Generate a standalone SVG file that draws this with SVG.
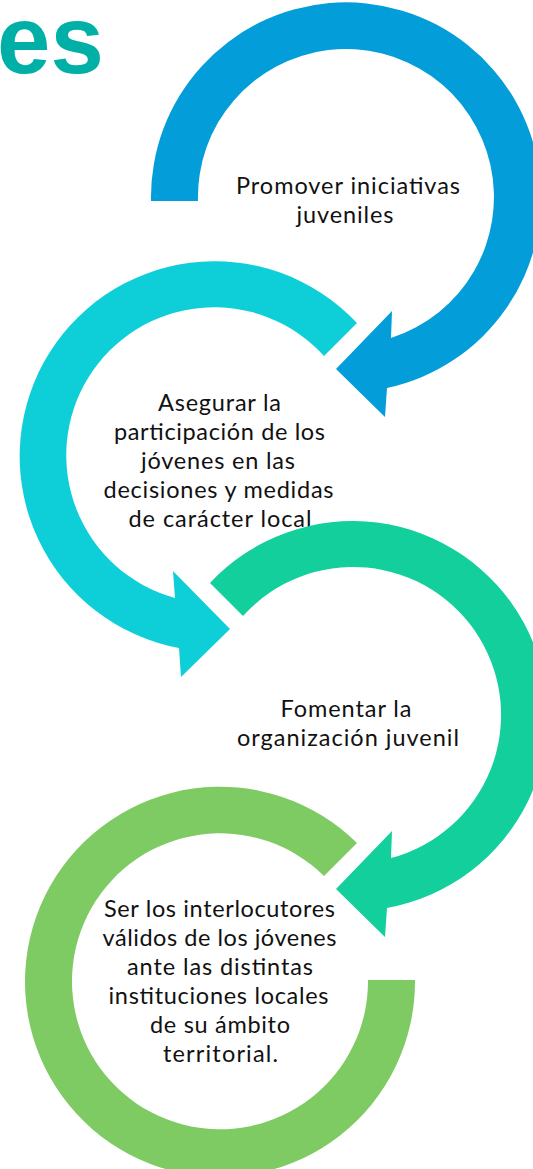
<svg xmlns="http://www.w3.org/2000/svg" width="533" height="1169" viewBox="0 0 533 1169">
<style>
.t{font-family:Lato,"Open Sans","Liberation Sans",sans-serif;font-size:23.5px;fill:#111;text-anchor:middle}
.title{font-family:"Liberation Sans",Arial,sans-serif;font-weight:bold;font-size:96px;fill:#00B0A6}
</style>
<rect width="533" height="1169" fill="#fff"/>
<text class="title" x="-3" y="73">es</text>
<g id="connectors"></g>
<g id="node1">
<path fill="#039DD9" d="M 151 201 A 195 195 0 1 1 387 388 L 385 417 L 336 369 L 392 311 L 391 338 A 148 148 0 1 0 198 201 Z"/>
<text class="t" x="348" y="194" textLength="224" lengthAdjust="spacing">Promover iniciativas</text>
<text class="t" x="345" y="223" textLength="97" lengthAdjust="spacing">juveniles</text>
</g>
<g id="node2">
<path fill="#0ECFD8" d="M 357 323 A 195 195 0 1 0 179 648 L 181 677 L 230 629 L 173 571 L 175 598 A 148 148 0 1 1 324 356 Z"/>
<text class="t" x="219.5" y="411" textLength="123" lengthAdjust="spacing">Asegurar la</text>
<text class="t" x="219.5" y="440" textLength="211" lengthAdjust="spacing">participación de los</text>
<text class="t" x="218" y="469" textLength="154" lengthAdjust="spacing">jóvenes en las</text>
<text class="t" x="218.5" y="498" textLength="230" lengthAdjust="spacing">decisiones y medidas</text>
<text class="t" x="220" y="527" textLength="183" lengthAdjust="spacing">de carácter local</text>
</g>
<g id="node3">
<path fill="#13CF9B" d="M 210 583 A 195 195 0 1 1 387 908 L 385 937 L 336 889 L 392 831 L 391 858 A 148 148 0 1 0 243 616 Z"/>
<text class="t" x="346" y="717" textLength="131" lengthAdjust="spacing">Fomentar la</text>
<text class="t" x="348" y="746" textLength="222" lengthAdjust="spacing">organización juvenil</text>
</g>
<g id="node4">
<path fill="#7ECB63" d="M 357 843 A 195 195 0 1 0 415 980 L 368 980 A 148 148 0 1 1 324 876 Z"/>
<text class="t" x="219.5" y="917" textLength="231" lengthAdjust="spacing">Ser los interlocutores</text>
<text class="t" x="219.5" y="946" textLength="234" lengthAdjust="spacing">válidos de los jóvenes</text>
<text class="t" x="220" y="975" textLength="186" lengthAdjust="spacing">ante las distintas</text>
<text class="t" x="218.5" y="1004" textLength="220" lengthAdjust="spacing">instituciones locales</text>
<text class="t" x="220" y="1033" textLength="140" lengthAdjust="spacing">de su ámbito</text>
<text class="t" x="220.5" y="1062" textLength="115" lengthAdjust="spacing">territorial.</text>
</g>
</svg>
